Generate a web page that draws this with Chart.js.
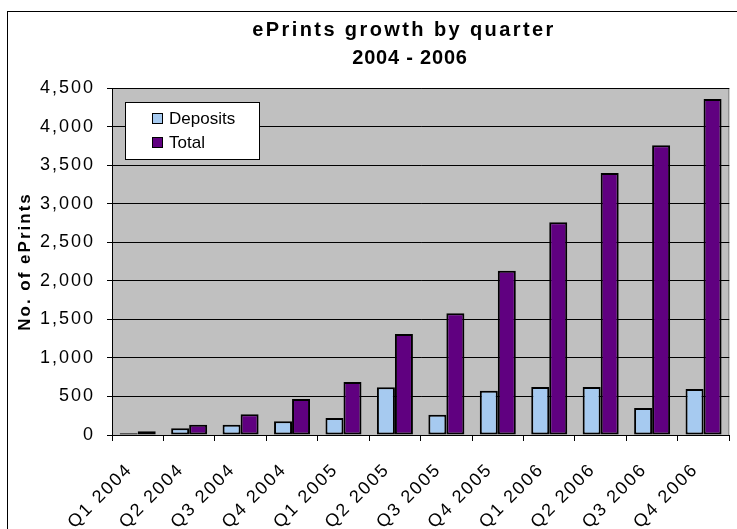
<!DOCTYPE html>
<html>
<head>
<meta charset="utf-8">
<script src="https://cdn.jsdelivr.net/npm/chart.js@4"></script>
<style>
  html, body { margin: 0; padding: 0; background: #fff; }
  #wrap { width: 737px; height: 529px; }
</style>
</head>
<body>
<div id="wrap"><canvas id="growthChart" width="737" height="529"></canvas></div>
<script>
// Datos
const quarters = ['Q1 2004', 'Q2 2004', 'Q3 2004', 'Q4 2004', 'Q1 2005', 'Q2 2005',
                  'Q3 2005', 'Q4 2005', 'Q1 2006', 'Q2 2006', 'Q3 2006', 'Q4 2006'];
const deposits = [22, 87, 134, 177, 220, 618, 264, 575, 622, 622, 350, 597];
const totals = [48, 134, 268, 467, 687, 1310, 1578, 2131, 2758, 3398, 3757, 4357];
const seriesNames = ['Deposits', 'Total'];
const seriesColors = ['#a6caf0', '#600080'];
const titleLines = ['ePrints growth by quarter', '2004 - 2006'];

const FONT = '"Liberation Sans", Arial, sans-serif';

// Espaciado de letras (el original sale estirado en horizontal)
const spacingPlugin = {
    id: 'spacing',
    beforeUpdate(chart) { chart.ctx.letterSpacing = '2px'; },
    beforeDraw(chart) { chart.ctx.letterSpacing = '2px'; }
};

// Fondo gris del área del gráfico y marco exterior
const backgroundPlugin = {
    id: 'plotBackground',
    beforeDraw(chart) {
        const { ctx, chartArea: a } = chart;
        ctx.save();
        ctx.fillStyle = '#c0c0c0';
        ctx.fillRect(a.left, a.top, a.right - a.left, a.bottom - a.top);
        ctx.strokeStyle = '#808080';
        ctx.lineWidth = 1;
        ctx.strokeRect(a.left + 0.5, a.top + 0.5, a.right - a.left - 1, a.bottom - a.top);
        ctx.strokeStyle = '#000';
        ctx.strokeRect(7.5, 11.5, 780, 560);
        ctx.restore();
    }
};

// Título centrado sobre el marco del gráfico (no sobre el canvas)
const titlePlugin = {
    id: 'boxTitle',
    afterDraw(chart) {
        const ctx = chart.ctx;
        ctx.save();
        ctx.font = 'bold 20px ' + FONT;
        ctx.fillStyle = '#000';
        ctx.textAlign = 'center';
        ctx.textBaseline = 'middle';
        ctx.letterSpacing = '2.4px';
        ctx.fillText(titleLines[0], 404, 30);
        ctx.letterSpacing = '0.8px';
        ctx.fillText(titleLines[1], 410, 58);
        ctx.restore();
    }
};

// Leyenda dentro del área, con caja blanca
const boxLegendPlugin = {
    id: 'boxLegend',
    afterDraw(chart) {
        const ctx = chart.ctx;
        ctx.save();
        ctx.letterSpacing = '0px';
        ctx.fillStyle = '#fff';
        ctx.strokeStyle = '#000';
        ctx.lineWidth = 1;
        ctx.fillRect(125.5, 102.5, 134, 57);
        ctx.strokeRect(125.5, 102.5, 134, 57);
        ctx.font = '17px ' + FONT;
        ctx.textBaseline = 'middle';
        chart.data.datasets.forEach((ds, i) => {
            const y = 113 + i * 24;
            ctx.fillStyle = ds.backgroundColor;
            ctx.fillRect(152.5, y + 0.5, 10, 10);
            ctx.strokeRect(152.5, y + 0.5, 10, 10);
            ctx.fillStyle = '#000';
            ctx.fillText(ds.label, 169, y + 6);
        });
        ctx.restore();
    }
};

const ctx = document.getElementById('growthChart').getContext('2d');
new Chart(ctx, {
    type: 'bar',
    data: {
        labels: quarters,
        datasets: [
            { label: seriesNames[0], data: deposits, backgroundColor: seriesColors[0] },
            { label: seriesNames[1], data: totals, backgroundColor: seriesColors[1] }
        ]
    },
    options: {
        responsive: false,
        animation: false,
        layout: { padding: { left: 0, right: 4, top: 88, bottom: 0 } },
        datasets: {
            bar: {
                borderColor: '#000',
                borderWidth: 2,
                borderSkipped: false,
                categoryPercentage: 0.7,
                barPercentage: 1.0
            }
        },
        plugins: {
            legend: { display: false },
            tooltip: { enabled: false },
            title: { display: false }
        },
        scales: {
            x: {
                offset: true,
                afterFit(scale) { scale.height = 94; },
                grid: {
                    drawOnChartArea: false,
                    offset: true,
                    tickLength: 6,
                    tickColor: '#000'
                },
                border: { color: '#000', width: 1 },
                ticks: {
                    color: '#000',
                    font: { family: FONT, size: 18 },
                    minRotation: 45,
                    maxRotation: 45,
                    autoSkip: false,
                    padding: 18,
                    labelOffset: -8
                }
            },
            y: {
                min: 0,
                max: 4500,
                afterFit(scale) { scale.width = 112; },
                grid: { color: '#000', tickColor: '#000', tickLength: 5 },
                border: { color: '#000', width: 1 },
                ticks: {
                    stepSize: 500,
                    color: '#000',
                    font: { family: FONT, size: 18 },
                    padding: 12,
                    callback: v => v.toLocaleString('en-US')
                },
                title: {
                    display: true,
                    text: 'No. of ePrints',
                    color: '#000',
                    font: { family: FONT, size: 17, weight: 'bold' },
                    padding: { top: 15, bottom: 0 }
                }
            }
        }
    },
    plugins: [spacingPlugin, backgroundPlugin, titlePlugin, boxLegendPlugin]
});
</script>
</body>
</html>
